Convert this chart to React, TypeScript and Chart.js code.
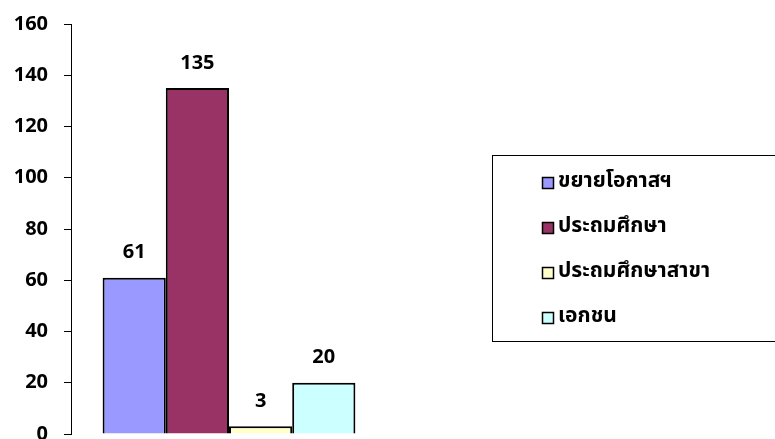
import React, { useEffect, useRef } from "react";
import { Chart, registerables } from "chart.js";

Chart.register(...registerables);

const categories = [""];
const seriesNames = ["ขยายโอกาสฯ", "ประถมศึกษา", "ประถมศึกษาสาขา", "เอกชน"];
const seriesValues = [61, 135, 3, 20];
const seriesColors = ["#9999FF", "#993366", "#FFFFCC", "#CCFFFF"];
const yTicks = [0, 20, 40, 60, 80, 100, 120, 140, 160];

const FONT = "'Open Sans', 'DejaVu Sans', sans-serif";
const THAI_FONT = "Tahoma, 'Noto Sans Thai', 'Noto Sans Thai UI', Loma, Garuda, 'Open Sans', sans-serif";

const valueLabelPlugin = {
  id: "valueLabels",
  afterDatasetsDraw(chart: any) {
    const ctx = chart.ctx;
    ctx.save();
    ctx.font = `bold 20px ${FONT}`;
    ctx.fillStyle = "#000";
    ctx.textAlign = "center";
    ctx.textBaseline = "middle";
    chart.data.datasets.forEach((ds: any, i: number) => {
      const meta = chart.getDatasetMeta(i);
      meta.data.forEach((bar: any, j: number) => {
        ctx.fillText(String(ds.data[j]), bar.x, bar.y - 25);
      });
    });
    ctx.restore();
  },
};

const boxLegendPlugin = {
  id: "boxLegend",
  afterDraw(chart: any) {
    const ctx = chart.ctx;
    ctx.save();
    const bx = 492, by = 155, bw = 290, bh = 186;
    ctx.strokeStyle = "#000";
    ctx.lineWidth = 1;
    ctx.strokeRect(bx + 0.5, by + 0.5, bw, bh);
    ctx.font = `bold 21px ${THAI_FONT}`;
    ctx.textBaseline = "middle";
    ctx.textAlign = "left";
    chart.data.datasets.forEach((ds: any, i: number) => {
      const y = 183 + i * 45;
      ctx.fillStyle = ds.backgroundColor;
      ctx.fillRect(542, y - 6, 12, 12);
      ctx.strokeStyle = "#000";
      ctx.lineWidth = 1.5;
      ctx.strokeRect(542.5, y - 5.5, 11, 11);
      ctx.fillStyle = "#000";
      ctx.fillText(ds.label, 558, y);
    });
    ctx.restore();
  },
};

export default function App() {
  const ref = useRef<HTMLCanvasElement>(null);
  useEffect(() => {
    if (!ref.current) return;
    const chart = new Chart(ref.current, {
      type: "bar",
      data: {
        labels: categories,
        datasets: seriesNames.map((name, i) => ({
          label: name,
          data: [seriesValues[i]],
          backgroundColor: seriesColors[i],
          borderColor: "#000",
          borderWidth: 2,
          categoryPercentage: 0.8,
          barPercentage: 1,
        })),
      },
      options: {
        animation: false,
        responsive: false,
        maintainAspectRatio: false,
        layout: { padding: { left: 0, top: 24, right: 388, bottom: 5 } },
        plugins: {
          legend: { display: false },
          tooltip: { enabled: false },
        },
        scales: {
          x: { display: false },
          y: {
            min: 0,
            max: 160,
            afterBuildTicks(scale: any) {
              scale.ticks = yTicks.map((v) => ({ value: v }));
            },
            afterFit(scale: any) {
              scale.width = 71;
              scale.paddingTop = 0;
              scale.paddingBottom = 0;
            },
            grid: {
              drawOnChartArea: false,
              drawTicks: true,
              tickLength: 7,
              color: "#000",
            },
            border: { display: true, color: "#000", width: 1 },
            ticks: {
              color: "#000",
              padding: 16,
              font: { family: FONT, size: 20, weight: "bold" },
            },
          },
        },
      },
      plugins: [valueLabelPlugin, boxLegendPlugin],
    });
    return () => chart.destroy();
  }, []);
  return (
    <div style={{ position: "fixed", left: 0, top: 0, width: 775, height: 439, background: "#fff" }}>
      <canvas ref={ref} width={775} height={439} style={{ width: 775, height: 439 }} />
    </div>
  );
}
